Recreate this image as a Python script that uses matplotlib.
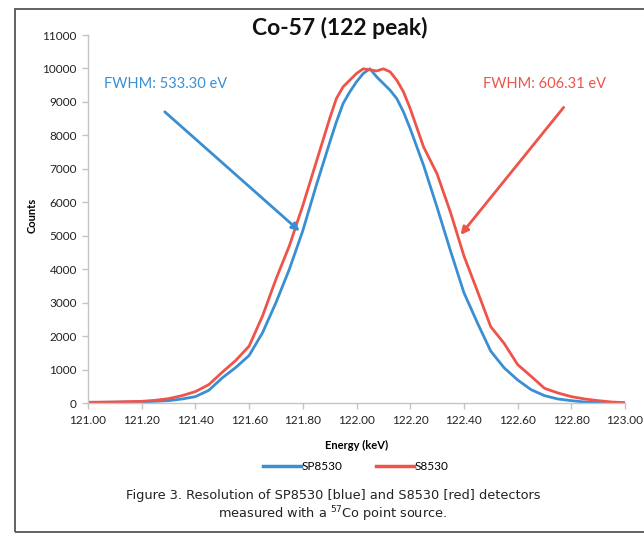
import matplotlib
matplotlib.use('Agg')
import matplotlib.pyplot as plt
from matplotlib.lines import Line2D
from matplotlib.patches import Rectangle

# Energy grid (keV), shared by both detectors
energy = [121.00, 121.05, 121.10, 121.15, 121.20, 121.25, 121.30, 121.35, 121.40, 121.45,
          121.50, 121.55, 121.60, 121.65, 121.70, 121.75, 121.80, 121.85, 121.90, 121.925,
          121.95, 121.975, 122.00, 122.025, 122.05, 122.075, 122.10, 122.125, 122.15, 122.175,
          122.20, 122.25, 122.30, 122.35, 122.40, 122.45, 122.50, 122.55, 122.60, 122.65,
          122.70, 122.75, 122.80, 122.85, 122.90, 122.95, 123.00]

# SP8530 (blue)
counts_sp8530 = [20, 20, 25, 30, 35, 50, 70, 120, 190, 380,
                 750, 1060, 1420, 2100, 3000, 4000, 5150, 6500, 7780, 8400,
                 8950, 9300, 9600, 9850, 9990, 9750, 9550, 9350, 9100, 8700,
                 8200, 7100, 5850, 4550, 3300, 2400, 1550, 1050, 690, 400,
                 220, 120, 70, 30, 10, 5, 5]

# S8530 (red)
counts_s8530 = [20, 25, 30, 40, 50, 80, 130, 220, 340, 550,
                920, 1270, 1700, 2600, 3700, 4700, 5900, 7200, 8500, 9100,
                9450, 9650, 9850, 9990, 9960, 9925, 9990, 9900, 9650, 9300,
                8800, 7650, 6850, 5700, 4400, 3350, 2280, 1780, 1150, 800,
                440, 300, 190, 120, 70, 30, 10]

series_names = ["SP8530", "S8530"]
fwhm_labels = ["FWHM: 533.30 eV", "FWHM: 606.31 eV"]

BLUE = "#3A8FD3"
RED = "#EE544A"
AXIS = "#C4C4C4"

plt.rcParams['font.family'] = ['Lato', 'DejaVu Sans']

W, H = 644, 535
fig = plt.figure(figsize=(W / 100, H / 100), dpi=100)

# outer chart frame
fig.patches.append(Rectangle((15 / W, 1 - 532 / H), 700 / W, 523 / H,
                             transform=fig.transFigure, fill=False,
                             edgecolor="#555555", linewidth=1.3))

ax = fig.add_axes([88 / W, 1 - 403 / H, (625 - 88) / W, (403 - 35) / H])

ax.plot(energy, counts_sp8530, color=BLUE, linewidth=2.0, label=series_names[0])
ax.plot(energy, counts_s8530, color=RED, linewidth=2.0, label=series_names[1])

ax.set_xlim(121.0, 123.0)
ax.set_ylim(0, 11000)
ax.set_xticks([121.0 + 0.2 * i for i in range(11)])
ax.set_xticklabels([f"{121.0 + 0.2 * i:.2f}" for i in range(11)])
ax.set_yticks(range(0, 11001, 1000))

for s in ["top", "right"]:
    ax.spines[s].set_visible(False)
for s in ["left", "bottom"]:
    ax.spines[s].set_color(AXIS)
    ax.spines[s].set_linewidth(1.0)
ax.tick_params(axis="both", colors=AXIS, labelcolor="#222222", labelsize=8.5,
               length=4, width=1.0, direction="out")
ax.tick_params(axis="x", pad=5)
ax.tick_params(axis="y", pad=4)

ax.set_xlabel("Energy (keV)", fontsize=8, fontweight="bold")
ax.set_ylabel("Counts", fontsize=8, fontweight="bold")
ax.xaxis.set_label_coords(0.5, -(445 - 403) / 368, transform=ax.transAxes)
ax.yaxis.set_label_coords((32 - 88) / 537, (403 - 215) / 368, transform=ax.transAxes)
ax.xaxis.label.set_verticalalignment("center")
ax.yaxis.label.set_verticalalignment("center")

# FWHM annotations
ax.text(121.06, 9550, fwhm_labels[0], color=BLUE, fontsize=10.5, va="center", ha="left")
ax.annotate("", xy=(121.796, 5080), xytext=(121.278, 8760),
            arrowprops=dict(arrowstyle="-|>", color=BLUE, lw=2.0, mutation_scale=11))
ax.text(122.70, 9550, fwhm_labels[1], color=RED, fontsize=10.5, va="center", ha="center")
ax.annotate("", xy=(122.381, 4960), xytext=(122.778, 8900),
            arrowprops=dict(arrowstyle="-|>", color=RED, lw=2.0, mutation_scale=11))

fig.text(340 / W, 1 - 28 / H, "Co-57 (122 peak)", fontsize=16.5, fontweight="bold",
         ha="center", va="center", color="#111111")

handles = [Line2D([], [], color=BLUE, lw=2.5), Line2D([], [], color=RED, lw=2.5)]
fig.legend(handles, series_names, loc="center", bbox_to_anchor=(356 / W, 1 - 467 / H),
           ncol=2, frameon=False, fontsize=8.5, handlelength=3.2, handletextpad=0.1,
           columnspacing=2.8)

fig.text(333 / W, 1 - 495 / H, "Figure 3. Resolution of SP8530 [blue] and S8530 [red] detectors",
         fontsize=9.3, ha="center", va="center", family="DejaVu Sans", color="#222222")
fig.text(333 / W, 1 - 514 / H, "measured with a $^{57}$Co point source.",
         fontsize=9.3, ha="center", va="center", family="DejaVu Sans", color="#222222")

fig.savefig("out.png", dpi=100, facecolor="white")
